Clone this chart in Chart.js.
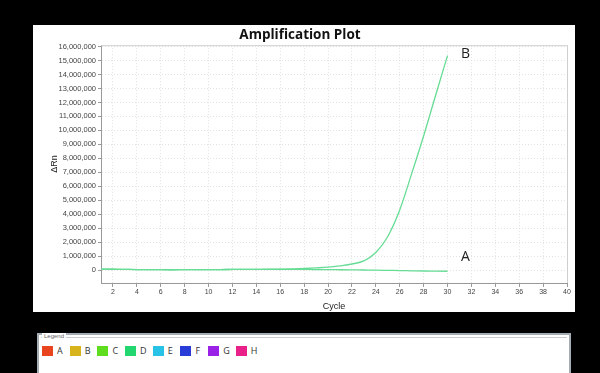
<!DOCTYPE html>
<html><head><meta charset="utf-8">
<script src="https://cdn.jsdelivr.net/npm/chart.js@4/dist/chart.umd.min.js"></script>
<style>
html,body{margin:0;padding:0;background:#000;width:600px;height:373px;overflow:hidden;font-family:"Liberation Sans",Arial,sans-serif;}
#panel{position:absolute;left:33px;top:25px;width:542px;height:287px;background:#fff;}
#legendBox{position:absolute;left:37px;top:333px;width:534px;height:44px;background:#fff;border:2px solid #a4acb6;box-sizing:border-box;}
#legendTitle{position:absolute;left:3px;top:-2px;font-size:6px;color:#666;background:#fff;padding:0 2px;}
#legendLine{position:absolute;left:2px;right:2px;top:2px;height:0;border-top:1px solid #c8ccd2;}
#legendItems{position:absolute;left:3px;top:9px;display:flex;}
.item{display:flex;align-items:center;width:27.7px;font-family:"Open Sans",sans-serif;font-size:9px;color:#333;}
.sw{width:11px;height:10px;margin-right:4px;}
</style></head>
<body>
<div id="panel"><canvas id="c" width="542" height="287"></canvas></div>
<div id="legendBox"><div id="legendLine"></div><div id="legendTitle">Legend</div><div id="legendItems"></div></div>
<script>
const cycles = [1,2,3,4,5,6,7,8,9,10,11,12,13,14,15,16,17,18,19,20,21,22,23,24,25,26,27,28,29,30];
const sampleB = [60000,55000,45000,35000,28000,22000,20000,22000,25000,30000,35000,40000,45000,50000,55000,65000,85000,110000,150000,200000,300000,430000,650000,1250000,2400000,4300000,6900000,9600000,12500000,15350000];
const sampleA = [60000,55000,45000,35000,28000,22000,20000,22000,25000,30000,35000,40000,45000,50000,50000,50000,45000,40000,35000,30000,20000,10000,0,-10000,-25000,-40000,-55000,-70000,-80000,-90000];
const xTicks = [2,4,6,8,10,12,14,16,18,20,22,24,26,28,30,32,34,36,38,40];
const yTicks = [0,1000000,2000000,3000000,4000000,5000000,6000000,7000000,8000000,9000000,10000000,11000000,12000000,13000000,14000000,15000000,16000000];
const legendLabels = ['A','B','C','D','E','F','G','H'];
const legendColors = ['#e8441e','#d8b41c','#5edc1e','#22d670','#28c2e6','#2a3cd8','#9a22e6','#e82088'];
const curveColor = '#66dc95';

const li = document.getElementById('legendItems');
legendLabels.forEach((l,i)=>{
  const d=document.createElement('div');d.className='item';
  d.innerHTML='<span class="sw" style="background:'+legendColors[i]+'"></span>'+l;
  li.appendChild(d);
});

const annot = {
  id:'annot',
  afterDatasetsDraw(chart){
    const {ctx,scales:{x,y}} = chart;
    ctx.save();
    ctx.font='14px "Open Sans", sans-serif';
    ctx.fillStyle='#222';
    ctx.textAlign='center';ctx.textBaseline='middle';
    ctx.fillText('B', x.getPixelForValue(31.5), y.getPixelForValue(15500000));
    ctx.fillText('A', x.getPixelForValue(31.5), y.getPixelForValue(900000));
    ctx.restore();
  }
};
const border = {
  id:'border',
  beforeDatasetsDraw(chart){
    const {ctx,chartArea:a}=chart;
    ctx.save();ctx.strokeStyle='#cfcfcf';ctx.lineWidth=1;
    ctx.beginPath();ctx.moveTo(a.left,a.top+0.5);ctx.lineTo(a.right+0.5,a.top+0.5);ctx.lineTo(a.right+0.5,a.bottom);ctx.stroke();
    ctx.restore();
  }
};

new Chart(document.getElementById('c'),{
  type:'line',
  data:{datasets:[
    {label:'B',data:cycles.map((c,i)=>({x:c,y:sampleB[i]})),borderColor:curveColor,borderWidth:1.3,pointRadius:0,cubicInterpolationMode:'monotone',fill:false},
    {label:'A',data:cycles.map((c,i)=>({x:c,y:sampleA[i]})),borderColor:curveColor,borderWidth:1.3,pointRadius:0,cubicInterpolationMode:'monotone',fill:false}
  ]},
  options:{
    responsive:false,animation:false,
    layout:{padding:{left:0,right:8,top:0,bottom:0}},
    plugins:{
      legend:{display:false},tooltip:{enabled:false},
      title:{display:true,text:'Amplification Plot',color:'#111',font:{family:'"Open Sans", sans-serif',size:13.5,weight:'bold'},padding:{top:2,bottom:2}}
    },
    scales:{
      x:{type:'linear',min:1,max:40,
        afterBuildTicks(s){s.ticks=xTicks.map(v=>({value:v}));},
        afterFit(s){s.height=29;},
        ticks:{color:'#444',font:{family:'"Liberation Sans", Arial',size:7},padding:1,maxRotation:0,autoSkip:false},
        grid:{color:'#e2e2e2',lineWidth:1,tickLength:4,tickColor:'#999'},
        border:{color:'#999',display:true,dash:[1,2]},
        title:{display:true,text:'Cycle',color:'#222',font:{family:'"Liberation Sans", Arial',size:9},padding:{top:0,bottom:0}}
      },
      y:{type:'linear',min:-930000,max:16100000,
        afterBuildTicks(s){s.ticks=yTicks.map(v=>({value:v}));},
        afterFit(s){s.width=68;},
        ticks:{color:'#444',font:{family:'"Liberation Sans", Arial',size:7.5},padding:2,autoSkip:false,callback:v=>v.toLocaleString('en-US')},
        grid:{color:'#e2e2e2',lineWidth:1,tickLength:3,tickColor:'#999'},
        border:{color:'#999',display:true,dash:[1,2]},
        title:{display:true,text:'ΔRn',color:'#222',font:{family:'"Liberation Sans", Arial',size:9},padding:{top:16,bottom:0}}
      }
    }
  },
  plugins:[border,annot]
});
</script>
</body></html>
